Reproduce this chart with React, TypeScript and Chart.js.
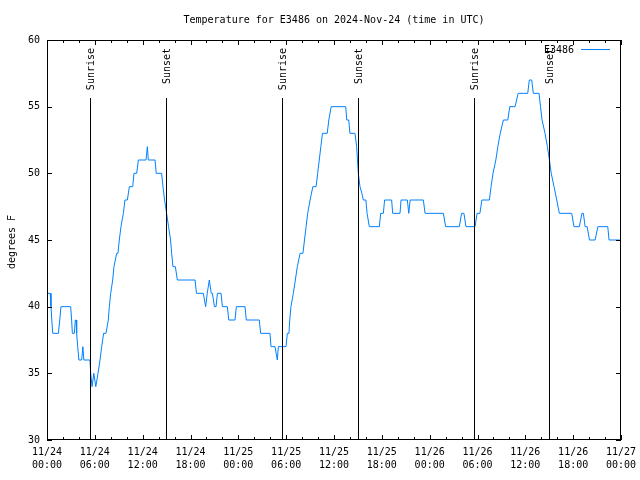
import React, { useEffect, useRef } from "react";
import { Chart, registerables } from "chart.js";

Chart.register(...registerables);

const titleText = "Temperature for E3486 on 2024-Nov-24 (time in UTC)";
const seriesName = "E3486";
const yAxisTitle = "degrees F";

const xTickHours = [0, 6, 12, 18, 24, 30, 36, 42, 48, 54, 60, 66, 72];
const xTickLabels = [
  ["11/24", "00:00"], ["11/24", "06:00"], ["11/24", "12:00"], ["11/24", "18:00"],
  ["11/25", "00:00"], ["11/25", "06:00"], ["11/25", "12:00"], ["11/25", "18:00"],
  ["11/26", "00:00"], ["11/26", "06:00"], ["11/26", "12:00"], ["11/26", "18:00"],
  ["11/27", "00:00"],
];
const xMinorHours = [2, 4, 8, 10, 14, 16, 20, 22, 26, 28, 32, 34, 38, 40, 44, 46, 50, 52, 56, 58, 62, 64, 68, 70];
const yTicks = [30, 35, 40, 45, 50, 55, 60];

const sunriseHours = [5.45, 29.5, 53.5];
const sunsetHours = [14.95, 38.95, 62.97];

// hours since 11/24 00:00 UTC
const hours = [
  0.1, 0.4, 0.5, 0.6, 0.72, 1.43, 1.6, 1.75, 2.97, 3.09, 3.18, 3.43, 3.55, 3.64, 3.72, 3.85, 4.0, 4.35, 4.5, 4.62, 5.39,
  5.48, 5.65, 5.87, 6.12, 6.4, 6.65, 6.86, 7.1, 7.4, 7.69, 7.82, 7.99, 8.24, 8.4, 8.74, 8.9, 9.07, 9.28, 9.58, 9.78,
  10.08, 10.33, 10.75, 10.91, 11.25, 11.46, 12.42, 12.59, 12.71, 13.55, 13.7, 14.38, 14.55, 14.75, 15.0, 15.25, 15.5,
  15.64, 15.8, 16.1, 16.35, 18.57, 18.75, 19.61, 19.9, 20.1, 20.36, 20.6, 20.75, 21.0, 21.2, 21.38, 21.83, 22.0, 22.62,
  22.8, 23.58, 23.75, 24.84, 25.0, 26.63, 26.8, 27.97, 28.1, 28.6, 28.89, 29.02, 29.23, 29.98, 30.15, 30.35, 30.45,
  30.6, 30.9, 31.15, 31.4, 31.75, 32.1, 32.3, 32.5, 32.7, 33.0, 33.35, 33.75, 33.95, 34.15, 34.35, 34.55, 35.15, 35.35,
  35.65, 37.47, 37.6, 37.85, 38.0, 38.63, 38.84, 39.05, 39.26, 39.5, 39.68, 40.0, 40.15, 40.43, 41.69, 41.85, 42.19,
  42.35, 43.23, 43.36, 44.28, 44.41, 45.2, 45.38, 45.55, 47.21, 47.42, 49.72, 50.0, 51.72, 52.0, 52.3, 52.55, 53.69,
  53.95, 54.3, 54.55, 55.49, 55.7, 55.95, 56.3, 56.55, 56.85, 57.25, 57.8, 58.05, 58.71, 59.1, 60.3, 60.5, 60.8, 61.0,
  61.72, 61.9, 62.1, 62.47, 62.77, 63.02, 63.25, 63.6, 63.94, 64.27, 65.82, 66.1, 66.78, 67.1, 67.28, 67.5, 67.75,
  68.05, 68.75, 69.1, 70.34, 70.5, 72.0,
];
const temps = [
  41, 41, 40, 39, 38, 38, 39, 40, 40, 39, 38, 38, 39, 39, 38, 37, 36, 36, 37, 36, 36,
  35, 34, 35, 34, 35, 36, 37, 38, 38, 39, 40, 41, 42, 43, 44, 44, 45, 46, 47, 48,
  48, 49, 49, 50, 50, 51, 51, 52, 51, 51, 50, 50, 49, 48, 47, 46, 45,
  44, 43, 43, 42, 42, 41, 41, 40, 41, 42, 41, 41, 40, 40, 41, 41, 40, 40,
  39, 39, 40, 40, 39, 39, 38, 38, 37, 37, 36, 37, 37, 37, 38, 38, 39,
  40, 41, 42, 43, 44, 44, 45, 46, 47, 48, 49, 49, 50, 51, 52, 53, 53, 54,
  55, 55, 54, 54, 53, 53, 52, 50, 49, 48.5, 48, 48, 47, 46, 46, 47, 47,
  48, 48, 47, 47, 48, 48, 47, 48, 48, 47, 47, 46, 46, 47, 47, 46, 46,
  47, 47, 48, 48, 49, 50, 51, 52, 53, 54, 54, 55, 55, 56, 56, 57, 57, 56,
  56, 55, 54, 53, 52, 51, 50, 49, 48, 47, 47, 46, 46, 47, 47, 46, 46,
  45, 45, 46, 46, 45, 45,
];

const FONT = "DejaVu Sans Mono";
const LINE_COLOR = "#0080ff";

const decorPlugin = {
  id: "gnuplotDecor",
  afterDatasetsDraw(chart: any) {
    const { ctx, chartArea } = chart;
    const xs = chart.scales.x;
    const ys = chart.scales.y;
    const { top, bottom } = chartArea;
    ctx.save();
    ctx.strokeStyle = "#000";
    ctx.lineWidth = 1;
    const lineTop = ys.getPixelForValue(55.65);
    ctx.font = `10px '${FONT}'`;
    ctx.fillStyle = "#000";
    const drawEvent = (h: number, label: string) => {
      const px = Math.round(xs.getPixelForValue(h)) + 0.5;
      ctx.beginPath();
      ctx.moveTo(px, Math.round(lineTop));
      ctx.lineTo(px, bottom);
      ctx.stroke();
      ctx.save();
      ctx.translate(px + 0.5, top + 8);
      ctx.rotate(-Math.PI / 2);
      ctx.textAlign = "right";
      ctx.textBaseline = "middle";
      ctx.fillText(label, 0, 0);
      ctx.restore();
    };
    sunriseHours.forEach((h) => drawEvent(h, "Sunrise"));
    sunsetHours.forEach((h) => drawEvent(h, "Sunset"));
    ctx.restore();
  },
  afterDraw(chart: any) {
    const { ctx, chartArea } = chart;
    const xs = chart.scales.x;
    const ys = chart.scales.y;
    const { left, right, top, bottom } = chartArea;
    ctx.save();
    ctx.strokeStyle = "#000";
    ctx.lineWidth = 1;
    ctx.strokeRect(left + 0.5, top + 0.5, right - left - 1, bottom - top - 1);
    ctx.beginPath();
    const major = 5;
    const minor = 3;
    xTickHours.forEach((h) => {
      const px = Math.round(xs.getPixelForValue(h)) + 0.5;
      ctx.moveTo(px, bottom);
      ctx.lineTo(px, bottom - major);
      ctx.moveTo(px, top);
      ctx.lineTo(px, top + major);
    });
    xMinorHours.forEach((h) => {
      const px = Math.round(xs.getPixelForValue(h)) + 0.5;
      ctx.moveTo(px, bottom);
      ctx.lineTo(px, bottom - minor);
      ctx.moveTo(px, top);
      ctx.lineTo(px, top + minor);
    });
    yTicks.forEach((v) => {
      const py = Math.round(ys.getPixelForValue(v)) + 0.5;
      ctx.moveTo(left, py);
      ctx.lineTo(left + major, py);
      ctx.moveTo(right, py);
      ctx.lineTo(right - major, py);
    });
    ctx.stroke();

    ctx.fillStyle = "#000";
    ctx.font = `10px '${FONT}'`;
    ctx.textAlign = "center";
    ctx.textBaseline = "middle";
    ctx.fillText(titleText, (left + right) / 2, 20);
    ctx.save();
    ctx.translate(12, (top + bottom) / 2 + 2);
    ctx.rotate(-Math.PI / 2);
    ctx.textAlign = "center";
    ctx.textBaseline = "middle";
    ctx.fillText(yAxisTitle, 0, 0);
    ctx.restore();
    ctx.textAlign = "right";
    ctx.textBaseline = "middle";
    ctx.fillText(seriesName, 574, 50);
    ctx.strokeStyle = LINE_COLOR;
    ctx.beginPath();
    ctx.moveTo(581, 49.5);
    ctx.lineTo(610, 49.5);
    ctx.stroke();
    ctx.restore();
  },
};

export default function App() {
  const canvasRef = useRef<HTMLCanvasElement | null>(null);

  useEffect(() => {
    if (!canvasRef.current) return;
    Chart.defaults.font.family = FONT;
    Chart.defaults.font.size = 10;
    Chart.defaults.color = "#000";
    const points = hours.map((h, i) => ({ x: h, y: temps[i] }));
    const chart = new Chart(canvasRef.current, {
      type: "line",
      data: {
        datasets: [
          {
            label: seriesName,
            data: points,
            borderColor: LINE_COLOR,
            backgroundColor: LINE_COLOR,
            borderWidth: 1,
            pointRadius: 0,
            tension: 0,
            fill: false,
          },
        ],
      },
      options: {
        animation: false,
        responsive: false,
        maintainAspectRatio: false,
        layout: { padding: { top: 40, right: 19, left: 0, bottom: 0 } },
        plugins: {
          legend: { display: false },
          tooltip: { enabled: false },
          title: { display: false },
        },
        scales: {
          x: {
            type: "linear",
            min: 0,
            max: 72,
            grid: { display: false, drawTicks: false },
            border: { display: false },
            afterBuildTicks: (s: any) => {
              s.ticks = xTickHours.map((v) => ({ value: v }));
            },
            afterFit: (s: any) => {
              s.height = 40;
              s.paddingLeft = 0;
              s.paddingRight = 0;
            },
            ticks: {
              autoSkip: false,
              maxRotation: 0,
              minRotation: 0,
              padding: 6,
              font: { family: FONT, size: 10, lineHeight: 1.3 },
              color: "#000",
              callback: (value: any) => {
                const i = xTickHours.indexOf(Number(value));
                return i >= 0 ? xTickLabels[i] : "";
              },
            },
          },
          y: {
            type: "linear",
            min: 30,
            max: 60,
            grid: { display: false, drawTicks: false },
            border: { display: false },
            afterBuildTicks: (s: any) => {
              s.ticks = yTicks.map((v) => ({ value: v }));
            },
            afterFit: (s: any) => {
              s.width = 47;
              s.paddingTop = 0;
              s.paddingBottom = 0;
            },
            ticks: {
              padding: 7,
              font: { family: FONT, size: 10 },
              color: "#000",
            },
          },
        },
      },
      plugins: [decorPlugin],
    });
    return () => chart.destroy();
  }, []);

  return (
    <div style={{ position: "absolute", left: 0, top: 0, width: 640, height: 480, background: "#fff" }}>
      <canvas ref={canvasRef} width={640} height={480} style={{ width: 640, height: 480 }} />
    </div>
  );
}
